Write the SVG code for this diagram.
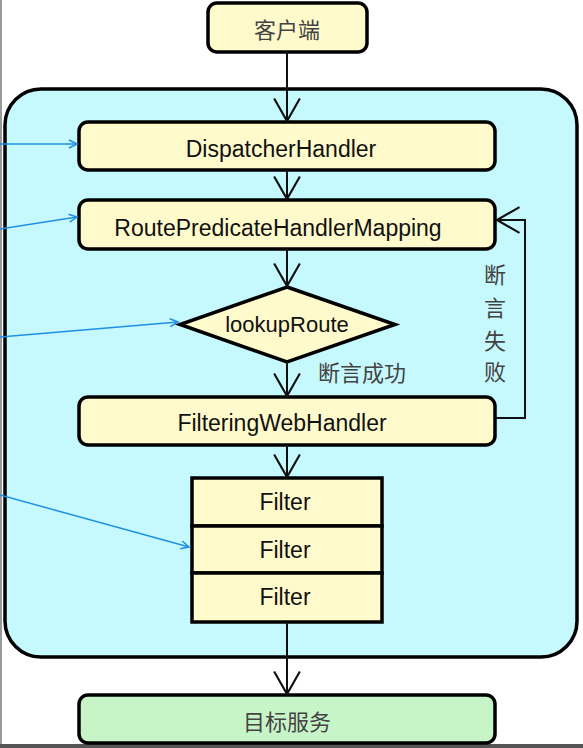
<svg xmlns="http://www.w3.org/2000/svg" width="583" height="748" viewBox="0 0 583 748">
<defs>
<style>
.box{fill:#fffacb;stroke:#000;stroke-width:3.5}
.green{fill:#c8f5c8;stroke:#000;stroke-width:3.5}
.en{font-family:"Liberation Sans",Arial,sans-serif;font-size:22px;fill:#111;text-anchor:middle;dominant-baseline:central}
.cn{font-family:"Liberation Sans","Noto Sans CJK SC",sans-serif;font-size:22px;fill:#444;text-anchor:middle;dominant-baseline:central}
.flow{fill:none;stroke:#111;stroke-width:2}
.blue{fill:none;stroke:#1e90e6;stroke-width:1.5}
</style>
<marker id="v" markerUnits="userSpaceOnUse" markerWidth="30" markerHeight="30" viewBox="-22 -14 24 28" refX="0" refY="0" orient="auto">
<path d="M-21,-12 L0,0 L-21,12" fill="none" stroke="#111" stroke-width="2"/>
</marker>
<marker id="b" markerUnits="userSpaceOnUse" markerWidth="12" markerHeight="12" viewBox="-10 -6 12 12" refX="0" refY="0" orient="auto">
<path d="M-8,-4 L0,0 L-8,4" fill="none" stroke="#1e90e6" stroke-width="1.5"/>
</marker>
</defs>
<rect x="0" y="0" width="583" height="748" fill="#fff"/>
<rect x="0" y="0" width="2" height="748" fill="#9a9a9a"/>
<rect x="0" y="744" width="583" height="4" fill="#555"/>

<g id="container">
<rect x="5" y="89" width="572" height="568" rx="36" fill="#c6f9fd" stroke="#000" stroke-width="3.5"/>
</g>

<g id="client">
<rect class="box" x="208" y="3" width="159" height="49" rx="9"/>
<text class="cn" x="287" y="30">客户端</text>
</g>
<g id="dispatcher">
<rect class="box" x="79" y="122" width="416" height="48" rx="9"/>
<text class="en" x="281" y="149" style="font-size:23px">DispatcherHandler</text>
</g>
<g id="rphm">
<rect class="box" x="79" y="200" width="416" height="49" rx="9"/>
<text class="en" x="278" y="228" style="font-size:23px">RoutePredicateHandlerMapping</text>
</g>
<g id="lookup">
<polygon class="box" points="287,287 395,324.5 287,362 180,324.5"/>
<text class="en" x="287" y="324">lookupRoute</text>
</g>
<g id="fwh">
<rect class="box" x="79" y="397" width="416" height="48" rx="9"/>
<text class="en" x="282" y="423" style="font-size:23px">FilteringWebHandler</text>
</g>
<g id="filters">
<rect class="box" x="192" y="478" width="190" height="48" rx="0"/>
<rect class="box" x="192" y="526" width="190" height="47" rx="0"/>
<rect class="box" x="192" y="573" width="190" height="49" rx="0"/>
<text class="en" x="285" y="502" style="font-size:23px">Filter</text>
<text class="en" x="285" y="550" style="font-size:23px">Filter</text>
<text class="en" x="285" y="597" style="font-size:23px">Filter</text>
</g>
<g id="target">
<rect class="green" x="79" y="695" width="416" height="48" rx="9"/>
<text class="cn" x="287" y="722">目标服务</text>
</g>

<g id="connectors">
<line class="flow" x1="287" y1="52" x2="287" y2="121" marker-end="url(#v)"/>
<line class="flow" x1="287" y1="170" x2="287" y2="199" marker-end="url(#v)"/>
<line class="flow" x1="287" y1="249" x2="287" y2="286" marker-end="url(#v)"/>
<line class="flow" x1="287" y1="362" x2="287" y2="396" marker-end="url(#v)"/>
<line class="flow" x1="287" y1="445" x2="287" y2="477" marker-end="url(#v)"/>
<line class="flow" x1="287" y1="622" x2="287" y2="694" marker-end="url(#v)"/>
<polyline class="flow" points="495,418 525,418 525,220 497,220" marker-end="url(#v)"/>
<line class="blue" x1="0" y1="144" x2="77" y2="144" marker-end="url(#b)"/>
<line class="blue" x1="0" y1="229" x2="77" y2="217" marker-end="url(#b)"/>
<line class="blue" x1="0" y1="337" x2="178" y2="322" marker-end="url(#b)"/>
<line class="blue" x1="0" y1="495" x2="189" y2="547" marker-end="url(#b)"/>
<text class="cn" x="362" y="373">断言成功</text>
<text class="cn" x="495" y="275">断</text>
<text class="cn" x="495" y="308">言</text>
<text class="cn" x="495" y="341">失</text>
<text class="cn" x="495" y="372">败</text>
</g>
</svg>
